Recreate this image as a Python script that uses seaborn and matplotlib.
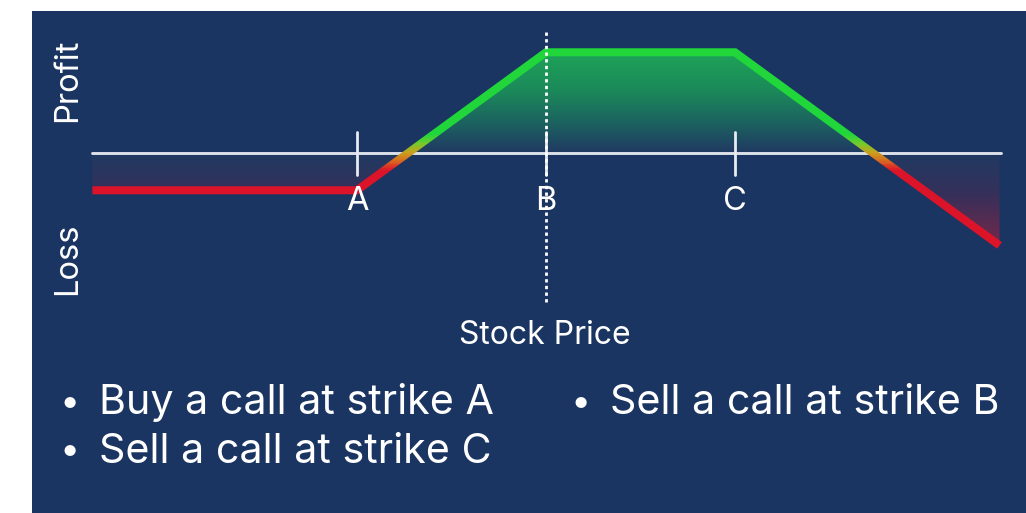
import numpy as np
import seaborn as sns
import matplotlib.pyplot as plt
from matplotlib.colors import LinearSegmentedColormap
from matplotlib.patches import Rectangle

# payoff of the spread (price, profit)
prices = [16, 30, 40, 50, 64]
profit = [-2.7, -2.7, 7.3, 7.3, -6.7]
strikes = [30, 40, 50]
strike_labels = ["A", "B", "C"]
legs = ["Buy a call at strike A", "Sell a call at strike B", "Sell a call at strike C"]

navy = "#1a3561"
red = "#dc1429"
green = "#20d63a"

sns.set_theme(style="white")
plt.rcParams['font.family'] = ['Inter', 'DejaVu Sans']

fig = plt.figure(figsize=(10.26, 5.13), dpi=100, facecolor="white")
fig.patches.append(Rectangle((32 / 1026, 0), 1, 1 - 11 / 513, transform=fig.transFigure,
                             facecolor=navy, edgecolor="none", zorder=-10))
ax = fig.add_axes([0, 0, 1, 1])
ax.set_facecolor("none")
ax.set_xlim(11.11, 65.40)
ax.set_ylim(-26.09, 11.09)
ax.axis("off")

# gradient fill between payoff and zero
poly = ax.fill_between(prices, profit, 0, color="none", lw=0)
fill_cmap = LinearSegmentedColormap.from_list("fill", [
    (0.0, "#74284b"), (3.7 / 14, "#35305a"), (6.7 / 14, "#203a62"),
    (8.7 / 14, "#1c6060"), (11.2 / 14, "#1b8a5a"), (1.0, "#1fa358")])
grad = np.linspace(-6.7, 7.3, 256).reshape(-1, 1)
im = ax.imshow(grad, extent=[16, 64, -6.7, 7.3], origin="lower", aspect="auto",
               cmap=fill_cmap, vmin=-6.7, vmax=7.3, zorder=1)
im.set_clip_path(poly.get_paths()[0], transform=ax.transData)

# zero line
ax.plot([16, 64.1], [0, 0], color="#dde2ea", lw=2.1, zorder=2)

# strike ticks and labels
for s, lab in zip(strikes, strike_labels):
    ax.plot([s, s], [1.55, -1.6], color="#e8ebf0", lw=2, zorder=2)
    ax.text(s, -3.55, lab, color="white", fontsize=23.5, ha="center", va="center", zorder=5)

# dotted line at B
ax.plot([40, 40], [8.8, -11.0], color="white", lw=2, ls=(0, (1.2, 1.2)), zorder=4)

# payoff line, coloured red -> orange -> green around zero
line_cmap = LinearSegmentedColormap.from_list("line", [red, "#d9661f", "#c9a21e", "#6fcc2c", green])
edges = np.linspace(-1.3, 1.3, 27)
bands = [(-30, edges[0], red)] + \
        [(lo, hi, line_cmap((lo - edges[0]) / (edges[-1] - edges[0])))
         for lo, hi in zip(edges[:-1], edges[1:])] + [(edges[-1], 30, green)]
for lo, hi, c in bands:
    sns.lineplot(x=prices, y=profit, ax=ax, color=c, lw=5.8, zorder=3,
                 solid_capstyle="butt", solid_joinstyle="miter")
    clip = Rectangle((0, lo), 100, hi - lo, transform=ax.transData)
    ax.lines[-1].set_clip_path(clip)

# axis labels
fig.text(68 / 1026, 1 - 80 / 513, "Profit", color="white", fontsize=23.5, rotation=90,
         ha="center", va="center")
fig.text(68 / 1026, 1 - 259 / 513, "Loss", color="white", fontsize=23.5, rotation=90,
         ha="center", va="center")
fig.text(545 / 1026, 1 - 336 / 513, "Stock Price", color="white", fontsize=23,
         ha="center", va="center")

# legs of the trade
pos = [(99, 403), (610, 403), (99, 452)]
for (x, y), leg in zip(pos, legs):
    fig.text((x - 29) / 1026, 1 - y / 513, "•", color="white", fontsize=26,
             ha="center", va="center")
    fig.text(x / 1026, 1 - y / 513, leg, color="white", fontsize=29.7,
             ha="left", va="center")

fig.savefig("out.png", dpi=100, facecolor="white")
